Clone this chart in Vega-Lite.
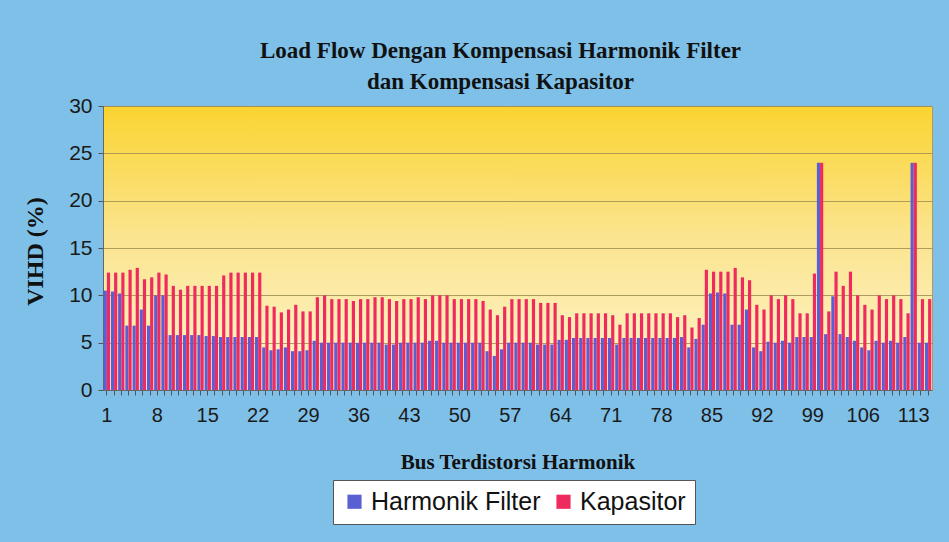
{
  "$schema": "https://vega.github.io/schema/vega-lite/v6.json",
  "autosize": {"type": "none"},
  "width": 829,
  "height": 284,
  "padding": {"left": 103, "top": 106, "right": 17, "bottom": 152},
  "background": "#7fc0e8",
  "title": {
    "text": ["Load Flow Dengan Kompensasi Harmonik Filter", "dan Kompensasi Kapasitor"],
    "font": "Liberation Serif",
    "fontSize": 23,
    "fontWeight": "bold",
    "color": "#111111",
    "anchor": "middle",
    "frame": "group",
    "dx": -17,
    "offset": 1,
    "lineHeight": 31
  },
  "data": {
    "values": [
      {"bus": 1, "Harmonik Filter": 10.5, "Kapasitor": 12.4},
      {"bus": 2, "Harmonik Filter": 10.4, "Kapasitor": 12.4},
      {"bus": 3, "Harmonik Filter": 10.2, "Kapasitor": 12.4},
      {"bus": 4, "Harmonik Filter": 6.8, "Kapasitor": 12.7},
      {"bus": 5, "Harmonik Filter": 6.8, "Kapasitor": 12.9},
      {"bus": 6, "Harmonik Filter": 8.5, "Kapasitor": 11.7},
      {"bus": 7, "Harmonik Filter": 6.8, "Kapasitor": 11.9},
      {"bus": 8, "Harmonik Filter": 10.0, "Kapasitor": 12.4},
      {"bus": 9, "Harmonik Filter": 10.0, "Kapasitor": 12.2},
      {"bus": 10, "Harmonik Filter": 5.8, "Kapasitor": 11.0},
      {"bus": 11, "Harmonik Filter": 5.8, "Kapasitor": 10.6},
      {"bus": 12, "Harmonik Filter": 5.8, "Kapasitor": 11.0},
      {"bus": 13, "Harmonik Filter": 5.8, "Kapasitor": 11.0},
      {"bus": 14, "Harmonik Filter": 5.8, "Kapasitor": 11.0},
      {"bus": 15, "Harmonik Filter": 5.7, "Kapasitor": 11.0},
      {"bus": 16, "Harmonik Filter": 5.7, "Kapasitor": 11.0},
      {"bus": 17, "Harmonik Filter": 5.6, "Kapasitor": 12.1},
      {"bus": 18, "Harmonik Filter": 5.6, "Kapasitor": 12.4},
      {"bus": 19, "Harmonik Filter": 5.6, "Kapasitor": 12.4},
      {"bus": 20, "Harmonik Filter": 5.6, "Kapasitor": 12.4},
      {"bus": 21, "Harmonik Filter": 5.6, "Kapasitor": 12.4},
      {"bus": 22, "Harmonik Filter": 5.6, "Kapasitor": 12.4},
      {"bus": 23, "Harmonik Filter": 4.5, "Kapasitor": 8.9},
      {"bus": 24, "Harmonik Filter": 4.2, "Kapasitor": 8.8},
      {"bus": 25, "Harmonik Filter": 4.3, "Kapasitor": 8.2},
      {"bus": 26, "Harmonik Filter": 4.5, "Kapasitor": 8.5},
      {"bus": 27, "Harmonik Filter": 4.1, "Kapasitor": 9.0},
      {"bus": 28, "Harmonik Filter": 4.1, "Kapasitor": 8.3},
      {"bus": 29, "Harmonik Filter": 4.2, "Kapasitor": 8.3},
      {"bus": 30, "Harmonik Filter": 5.2, "Kapasitor": 9.8},
      {"bus": 31, "Harmonik Filter": 5.0, "Kapasitor": 10.0},
      {"bus": 32, "Harmonik Filter": 5.0, "Kapasitor": 9.6},
      {"bus": 33, "Harmonik Filter": 5.0, "Kapasitor": 9.6},
      {"bus": 34, "Harmonik Filter": 5.0, "Kapasitor": 9.6},
      {"bus": 35, "Harmonik Filter": 5.0, "Kapasitor": 9.4},
      {"bus": 36, "Harmonik Filter": 5.0, "Kapasitor": 9.6},
      {"bus": 37, "Harmonik Filter": 5.0, "Kapasitor": 9.6},
      {"bus": 38, "Harmonik Filter": 5.0, "Kapasitor": 9.8},
      {"bus": 39, "Harmonik Filter": 5.0, "Kapasitor": 9.8},
      {"bus": 40, "Harmonik Filter": 4.8, "Kapasitor": 9.6},
      {"bus": 41, "Harmonik Filter": 4.8, "Kapasitor": 9.4},
      {"bus": 42, "Harmonik Filter": 5.0, "Kapasitor": 9.6},
      {"bus": 43, "Harmonik Filter": 5.0, "Kapasitor": 9.6},
      {"bus": 44, "Harmonik Filter": 5.0, "Kapasitor": 9.8},
      {"bus": 45, "Harmonik Filter": 5.0, "Kapasitor": 9.6},
      {"bus": 46, "Harmonik Filter": 5.2, "Kapasitor": 10.0},
      {"bus": 47, "Harmonik Filter": 5.2, "Kapasitor": 10.0},
      {"bus": 48, "Harmonik Filter": 5.0, "Kapasitor": 10.0},
      {"bus": 49, "Harmonik Filter": 5.0, "Kapasitor": 9.6},
      {"bus": 50, "Harmonik Filter": 5.0, "Kapasitor": 9.6},
      {"bus": 51, "Harmonik Filter": 5.0, "Kapasitor": 9.6},
      {"bus": 52, "Harmonik Filter": 5.0, "Kapasitor": 9.6},
      {"bus": 53, "Harmonik Filter": 5.0, "Kapasitor": 9.4},
      {"bus": 54, "Harmonik Filter": 4.1, "Kapasitor": 8.5},
      {"bus": 55, "Harmonik Filter": 3.6, "Kapasitor": 7.9},
      {"bus": 56, "Harmonik Filter": 4.3, "Kapasitor": 8.8},
      {"bus": 57, "Harmonik Filter": 5.0, "Kapasitor": 9.6},
      {"bus": 58, "Harmonik Filter": 5.0, "Kapasitor": 9.6},
      {"bus": 59, "Harmonik Filter": 5.0, "Kapasitor": 9.6},
      {"bus": 60, "Harmonik Filter": 5.0, "Kapasitor": 9.6},
      {"bus": 61, "Harmonik Filter": 4.8, "Kapasitor": 9.2},
      {"bus": 62, "Harmonik Filter": 4.8, "Kapasitor": 9.2},
      {"bus": 63, "Harmonik Filter": 4.8, "Kapasitor": 9.2},
      {"bus": 64, "Harmonik Filter": 5.3, "Kapasitor": 7.9},
      {"bus": 65, "Harmonik Filter": 5.3, "Kapasitor": 7.7},
      {"bus": 66, "Harmonik Filter": 5.5, "Kapasitor": 8.1},
      {"bus": 67, "Harmonik Filter": 5.5, "Kapasitor": 8.1},
      {"bus": 68, "Harmonik Filter": 5.5, "Kapasitor": 8.1},
      {"bus": 69, "Harmonik Filter": 5.5, "Kapasitor": 8.1},
      {"bus": 70, "Harmonik Filter": 5.5, "Kapasitor": 8.1},
      {"bus": 71, "Harmonik Filter": 5.5, "Kapasitor": 7.9},
      {"bus": 72, "Harmonik Filter": 4.8, "Kapasitor": 6.9},
      {"bus": 73, "Harmonik Filter": 5.5, "Kapasitor": 8.1},
      {"bus": 74, "Harmonik Filter": 5.5, "Kapasitor": 8.1},
      {"bus": 75, "Harmonik Filter": 5.5, "Kapasitor": 8.1},
      {"bus": 76, "Harmonik Filter": 5.5, "Kapasitor": 8.1},
      {"bus": 77, "Harmonik Filter": 5.5, "Kapasitor": 8.1},
      {"bus": 78, "Harmonik Filter": 5.5, "Kapasitor": 8.1},
      {"bus": 79, "Harmonik Filter": 5.5, "Kapasitor": 8.1},
      {"bus": 80, "Harmonik Filter": 5.5, "Kapasitor": 7.7},
      {"bus": 81, "Harmonik Filter": 5.6, "Kapasitor": 7.9},
      {"bus": 82, "Harmonik Filter": 4.5, "Kapasitor": 6.6},
      {"bus": 83, "Harmonik Filter": 5.4, "Kapasitor": 7.6},
      {"bus": 84, "Harmonik Filter": 6.9, "Kapasitor": 12.7},
      {"bus": 85, "Harmonik Filter": 10.2, "Kapasitor": 12.5},
      {"bus": 86, "Harmonik Filter": 10.3, "Kapasitor": 12.5},
      {"bus": 87, "Harmonik Filter": 10.2, "Kapasitor": 12.5},
      {"bus": 88, "Harmonik Filter": 6.9, "Kapasitor": 12.9},
      {"bus": 89, "Harmonik Filter": 6.9, "Kapasitor": 11.9},
      {"bus": 90, "Harmonik Filter": 8.5, "Kapasitor": 11.6},
      {"bus": 91, "Harmonik Filter": 4.5, "Kapasitor": 9.0},
      {"bus": 92, "Harmonik Filter": 4.1, "Kapasitor": 8.5},
      {"bus": 93, "Harmonik Filter": 5.1, "Kapasitor": 10.0},
      {"bus": 94, "Harmonik Filter": 5.0, "Kapasitor": 9.6},
      {"bus": 95, "Harmonik Filter": 5.2, "Kapasitor": 10.0},
      {"bus": 96, "Harmonik Filter": 5.0, "Kapasitor": 9.6},
      {"bus": 97, "Harmonik Filter": 5.6, "Kapasitor": 8.1},
      {"bus": 98, "Harmonik Filter": 5.6, "Kapasitor": 8.1},
      {"bus": 99, "Harmonik Filter": 5.6, "Kapasitor": 12.3},
      {"bus": 100, "Harmonik Filter": 24.0, "Kapasitor": 24.0},
      {"bus": 101, "Harmonik Filter": 5.9, "Kapasitor": 8.3},
      {"bus": 102, "Harmonik Filter": 9.9, "Kapasitor": 12.5},
      {"bus": 103, "Harmonik Filter": 5.9, "Kapasitor": 11.0},
      {"bus": 104, "Harmonik Filter": 5.6, "Kapasitor": 12.5},
      {"bus": 105, "Harmonik Filter": 5.2, "Kapasitor": 10.0},
      {"bus": 106, "Harmonik Filter": 4.5, "Kapasitor": 9.0},
      {"bus": 107, "Harmonik Filter": 4.2, "Kapasitor": 8.5},
      {"bus": 108, "Harmonik Filter": 5.2, "Kapasitor": 10.0},
      {"bus": 109, "Harmonik Filter": 5.0, "Kapasitor": 9.6},
      {"bus": 110, "Harmonik Filter": 5.2, "Kapasitor": 10.0},
      {"bus": 111, "Harmonik Filter": 5.0, "Kapasitor": 9.6},
      {"bus": 112, "Harmonik Filter": 5.6, "Kapasitor": 8.1},
      {"bus": 113, "Harmonik Filter": 24.0, "Kapasitor": 24.0},
      {"bus": 114, "Harmonik Filter": 5.0, "Kapasitor": 9.6},
      {"bus": 115, "Harmonik Filter": 5.0, "Kapasitor": 9.6}
    ]
  },
  "transform": [
    {"fold": ["Harmonik Filter", "Kapasitor"], "as": ["series", "value"]}
  ],
  "mark": {"type": "bar"},
  "encoding": {
    "x": {
      "field": "bus",
      "type": "ordinal",
      "sort": "ascending",
      "scale": {"paddingInner": 0.12, "paddingOuter": 0.1},
      "axis": {
        "title": "Bus Terdistorsi Harmonik",
        "titleFont": "Liberation Serif",
        "titleFontSize": 21,
        "titleFontWeight": "bold",
        "titleColor": "#111111",
        "titleY": 72,
        "titleBaseline": "middle",
        "labelAngle": 0,
        "labelExpr": "(datum.value - 1) % 7 == 0 ? datum.label : ''",
        "labelOverlap": false,
        "labelFont": "Liberation Sans",
        "labelFontSize": 20,
        "labelColor": "#1a1a1a",
        "labelPadding": 10,
        "tickSize": 5,
        "tickColor": "#555555",
        "domainColor": "#666666"
      }
    },
    "xOffset": {"field": "series", "type": "nominal", "sort": ["Harmonik Filter", "Kapasitor"]},
    "y": {
      "field": "value",
      "type": "quantitative",
      "scale": {"domain": [0, 30], "nice": false},
      "axis": {
        "title": "VIHD (%)",
        "titleFont": "Liberation Serif",
        "titleFontSize": 24,
        "titleFontWeight": "bold",
        "titleColor": "#111111",
        "titleX": -68,
        "titleY": 145,
        "titleBaseline": "middle",
        "values": [0, 5, 10, 15, 20, 25, 30],
        "labelFont": "Liberation Sans",
        "labelFontSize": 21,
        "labelColor": "#1a1a1a",
        "labelPadding": 6,
        "tickSize": 5,
        "tickColor": "#555555",
        "domainColor": "#666666",
        "grid": true,
        "gridColor": "#a08f55",
        "gridOpacity": 0.85
      }
    },
    "color": {
      "field": "series",
      "type": "nominal",
      "scale": {"domain": ["Harmonik Filter", "Kapasitor"], "range": ["#5b5fd4", "#ef2a5f"]},
      "legend": {
        "title": null,
        "orient": "none",
        "direction": "horizontal",
        "legendX": 230,
        "legendY": 374,
        "fillColor": "#ffffff",
        "strokeColor": "#555555",
        "padding": 9,
        "symbolType": "square",
        "symbolSize": 200,
        "symbolStrokeWidth": 0,
        "labelFont": "Liberation Sans",
        "labelFontSize": 25,
        "labelColor": "#111111",
        "labelLimit": 400,
        "columnPadding": 10
      }
    }
  },
  "config": {
    "view": {
      "fill": {
        "gradient": "linear",
        "x1": 0, "y1": 0, "x2": 0, "y2": 1,
        "stops": [
          {"offset": 0, "color": "#fbd431"},
          {"offset": 0.45, "color": "#fbe48e"},
          {"offset": 1, "color": "#fdf5cf"}
        ]
      },
      "stroke": "#b09a60"
    }
  }
}
